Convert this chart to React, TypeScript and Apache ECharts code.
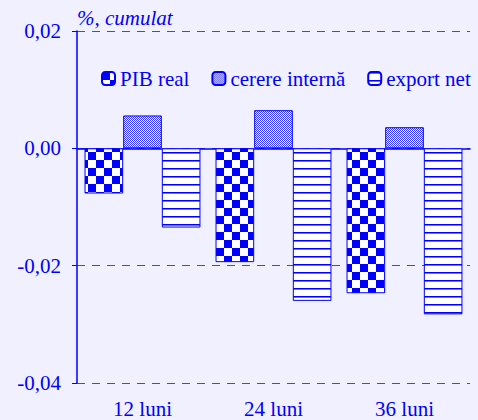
import React, { useEffect, useRef } from "react";
import * as echarts from "echarts";

const categories = ["12 luni", "24 luni", "36 luni"];
const seriesNames = ["PIB real", "cerere internă", "export net"];
const pibReal = [-0.0077, -0.0194, -0.0247];
const cerereInterna = [0.0056, 0.0065, 0.0036];
const exportNet = [-0.0135, -0.026, -0.0283];
const yTicks = { min: -0.04, max: 0.02, interval: 0.02 };

const BLUE = "#0000FF";

function makeTile(w: number, h: number, draw: (ctx: CanvasRenderingContext2D) => void): string {
  const c = document.createElement("canvas");
  c.width = w;
  c.height = h;
  const ctx = c.getContext("2d")!;
  draw(ctx);
  return c.toDataURL();
}

export default function App() {
  const ref = useRef<HTMLDivElement>(null);
  useEffect(() => {
    if (!ref.current) return;
    document.body.style.margin = "0";
    const chart = echarts.init(ref.current, undefined, { renderer: "svg" });

    const checker = makeTile(16, 16, (ctx) => {
      ctx.fillStyle = "#FFFFFF";
      ctx.fillRect(0, 0, 16, 16);
      ctx.fillStyle = BLUE;
      ctx.fillRect(0, 0, 8, 8);
      ctx.fillRect(8, 8, 8, 8);
    });
    const dots = makeTile(2, 2, (ctx) => {
      ctx.fillStyle = "#FFFFFF";
      ctx.fillRect(0, 0, 2, 2);
      ctx.fillStyle = "#3030FF";
      ctx.fillRect(0, 0, 1, 1);
      ctx.fillRect(1, 1, 1, 1);
    });
    const stripes = makeTile(8, 8, (ctx) => {
      ctx.fillStyle = "#FFFFFF";
      ctx.fillRect(0, 0, 8, 8);
      ctx.fillStyle = BLUE;
      ctx.fillRect(0, 0, 8, 1);
      ctx.fillStyle = "#7070FF";
      ctx.fillRect(0, 1, 8, 1);
    });
    const patterns = [checker, dots, stripes];
    const datas = [pibReal, cerereInterna, exportNet];

    const font = "'Liberation Serif', 'Times New Roman', serif";

    chart.setOption({
      animation: false,
      backgroundColor: "#F0F0FF",
      textStyle: { fontFamily: font, color: BLUE },
      grid: { left: 77, right: 8, top: 31, bottom: 37, containLabel: false },
      legend: {
        top: 63,
        left: 96,
        itemWidth: 13,
        itemHeight: 13,
        itemGap: 22,
        textStyle: { fontFamily: font, fontSize: 21, color: BLUE },
        data: seriesNames,
      },
      xAxis: [
        {
          type: "category",
          data: categories,
          position: "bottom",
          axisLine: { show: false, onZero: false },
          axisTick: { show: false },
          axisLabel: { fontFamily: font, fontSize: 21, color: BLUE, margin: 15 },
        },
        {
          type: "category",
          data: categories,
          position: "bottom",
          axisLine: { show: true, onZero: true, lineStyle: { color: BLUE, width: 1.5 } },
          axisTick: { show: false },
          axisLabel: { show: false },
        },
      ],
      yAxis: {
        type: "value",
        min: yTicks.min,
        max: yTicks.max,
        interval: yTicks.interval,
        name: "%, cumulat",
        nameLocation: "end",
        nameGap: 3,
        nameTextStyle: {
          fontFamily: font,
          fontSize: 21,
          fontStyle: "italic",
          color: BLUE,
          align: "left",
          padding: [0, 0, 0, 0],
        },
        axisLine: { show: true, lineStyle: { color: BLUE, width: 1.5 } },
        axisTick: { show: true, length: 5, lineStyle: { color: BLUE } },
        axisLabel: {
          fontFamily: font,
          fontSize: 21,
          color: BLUE,
          margin: 16,
          formatter: (v: number) => v.toFixed(2).replace(".", ","),
        },
        splitLine: { show: true, lineStyle: { color: "#4040FF", type: [8, 7], width: 1 } },
      },
      series: seriesNames.map((name, i) => ({
        name,
        type: "bar",
        xAxisIndex: 0,
        data: datas[i],
        barGap: "0%",
        barCategoryGap: "11.5%",
        itemStyle: {
          color: { image: patterns[i], repeat: "repeat" },
          borderColor: BLUE,
          borderWidth: 1,
        },
      })),
    });
    return () => chart.dispose();
  }, []);
  return <div ref={ref} style={{ width: 478, height: 420 }} />;
}
